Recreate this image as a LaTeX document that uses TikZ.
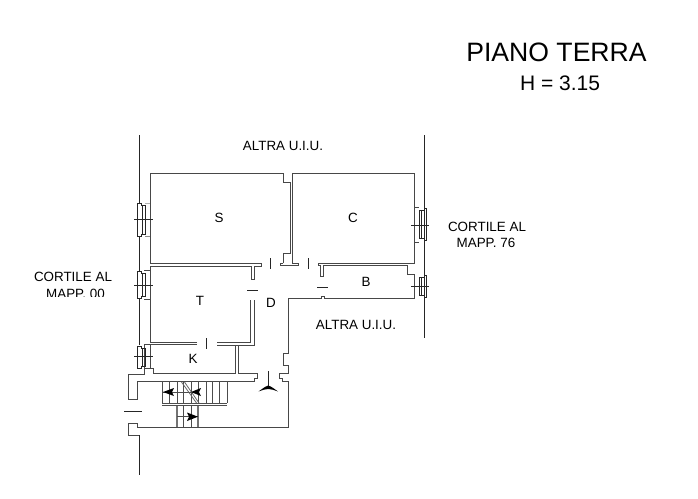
\documentclass[tikz,border=0pt]{standalone}
\usepackage{fontspec}
\setmainfont{Liberation Sans}
\tikzset{
  wall/.style={draw=black!72,line width=0.95pt,line join=miter},
  thin line/.style={draw=black!85,line width=0.75pt},
  stairline/.style={draw=black!70,line width=0.8pt},
  stairgray/.style={draw=black!55,line width=1.1pt},
  lab/.style={inner sep=0pt,font=\fontsize{13.4}{15}\selectfont},
}
\begin{document}
\begin{tikzpicture}[x=1pt,y=-1pt]
\useasboundingbox (0,0) rectangle (698,498);
% titles
\node[inner sep=0pt,font=\fontsize{26.6}{30}\selectfont] (title) at (556.5,52.5) {PIANO TERRA};
\node[inner sep=0pt,font=\fontsize{21}{24}\selectfont] (height) at (560,83) {H = 3.15};
% labels
\node[lab] (ltop) at (283,146) {ALTRA U.I.U.};
\node[lab] (lbot) at (356,325) {ALTRA U.I.U.};
\node[lab] (lr1) at (487,226.5) {CORTILE AL};
\node[lab] (lr2) at (486,243) {MAPP. 76};
\node[lab] (ll1) at (73,277) {CORTILE AL};
\begin{scope}
\clip (30,285) rectangle (115,296.5);
\node[lab] (ll2) at (75.5,294) {MAPP. 00};
\end{scope}
\node[lab] (rS) at (219,218) {S};
\node[lab] (rC) at (353,218) {C};
\node[lab] (rT) at (200,300.5) {T};
\node[lab] (rD) at (271,303) {D};
\node[lab] (rB) at (366,282) {B};
\node[lab] (rK) at (193,358.5) {K};
% boundary lines
\draw[thin line] (139,135) -- (139,203);
\draw[thin line] (139,236) -- (139,271);
\draw[thin line] (139,298) -- (139,345);
\draw[thin line] (424.5,135) -- (424.5,338);
\draw[thin line] (139,435) -- (139,475);
% room S (open towards the hall)
\draw[wall] (261,263) -- (150,263) -- (150,173) -- (283,173) -- (283,182) -- (290,182) -- (290,253) -- (283,253) -- (283,263);
% column foot & room C
\draw[wall] (283,263) -- (280,263) -- (280,265.5) -- (298,265.5) -- (298,263) -- (292.5,263) -- (292.5,173) -- (414,173) -- (414,263) -- (318,263) -- (318,265.5) -- (320,265.5) -- (320,276) -- (323.5,276) -- (323.5,265.5) -- (407,265.5) -- (407,274) -- (414,274) -- (414,298) -- (324,298) -- (324,296) -- (321,296) -- (321,298) -- (288.5,298) -- (288.5,353) -- (283,353) -- (283,365) -- (288.5,365) -- (288.5,373.5) -- (279,373.5) -- (279,378) -- (282,378) -- (282,381) -- (288.5,381) -- (288.5,427) -- (137,427) -- (137,423) -- (128.5,423) -- (128.5,435) -- (139,435);
% room T
\draw[wall] (197,342) -- (150,342) -- (150,266) -- (251,266) -- (251,279) -- (254,279) -- (254,266) -- (261,266) -- (261,263);
\draw[wall] (217,342) -- (250,342) -- (250,300);
\draw[wall] (197,344.5) -- (144,344.5) -- (144,368) -- (150,368) -- (150,344.5);
\draw[wall] (217,345) -- (254,345) -- (254,300);
% K and lower walls
\draw[wall] (150,368) -- (153,368) -- (153,373) -- (235,373) -- (235,345);
\draw[wall] (238,345) -- (238,373.5) -- (257,373.5) -- (257,378) -- (254,378) -- (254,381) -- (137,381) -- (137,399) -- (128.5,399) -- (128.5,374) -- (144,374) -- (144,368);
% door marks
\draw[thin line] (247,290) -- (258,290);
\draw[thin line] (270,258) -- (270,269);
\draw[thin line] (308,258) -- (308,269);
\draw[thin line] (317,287) -- (328,287);
\draw[thin line] (206.5,338) -- (206.5,349);
\draw[thin line] (124,411) -- (142,411);
% windows left
\foreach \t/\b/\m in {203/236/219.5, 271/298/285, 346/368/356}{
  \draw[thin line] (137,\t) -- (141,\t) -- (141,\t+2) -- (145,\t+2) -- (145,\b-2) -- (141,\b-2) -- (141,\b) -- (137,\b) -- cycle;
  \draw[thin line] (142.5,\t+2) -- (142.5,\b-2);
  \draw[thin line] (134,\m) -- (153,\m);
}
\draw[wall,draw=black!45] (145,236.5) -- (150,236.5);
\draw[wall,draw=black!30] (145,203) -- (150,203);
\draw[wall] (144,270.5) -- (150,270.5);
\draw[wall] (144,299) -- (150,299);
% windows right
\draw[wall] (414,207) -- (419,207);
\draw[wall] (414,242) -- (419,242);
\foreach \t/\b/\m in {208/240/225, 275/297/286.5}{
  \draw[thin line] (426.5,\t) -- (424.5,\t) -- (424.5,\t+2) -- (419,\t+2) -- (419,\b-2) -- (424.5,\b-2) -- (424.5,\b) -- (426.5,\b) -- cycle;
  \draw[thin line] (421.5,\t+2) -- (421.5,\b-2);
  \draw[thin line] (411,\m) -- (429,\m);
}
% stairs
\foreach \x in {162,169,177,183,191,198,206,212,219,227}{
  \draw[stairline] (\x,381) -- (\x,403);
}
\draw[stairline] (162,403) -- (227,403);
\draw[stairline] (162,405.5) -- (227,405.5);
\foreach \x in {177,198}{\draw[stairgray] (\x,405.5) -- (\x,427);}
\foreach \x in {183.5,191}{\draw[stairline] (\x,405.5) -- (\x,427);}
\draw[stairline] (162,392) -- (198,392);
\draw[stairline] (177,416.7) -- (198,416.7);
\draw[stairline,draw=black!60] (181.5,382) -- (196.5,403);
\draw[stairline,draw=black!60] (184.5,382) -- (199,403);
\fill[black] (163,392) -- (174,388) -- (172,392) -- (174,396) -- cycle;
\fill[black] (191,392) -- (201,388) -- (199,392) -- (201,396) -- cycle;
\fill[black] (198,416.7) -- (187,412.5) -- (189,416.7) -- (187,421) -- cycle;
% entrance mark
\draw[thin line] (268.3,371) -- (268.3,388);
\fill[black] (258.5,391.5) .. controls (262,389) and (265,386.5) .. (268.3,385.5) .. controls (271.5,386.5) and (274.5,389) .. (278,391.5) .. controls (274,390) and (271,389) .. (268.3,389) .. controls (265.5,389) and (262.5,390) .. (258.5,391.5) -- cycle;
\end{tikzpicture}
\end{document}
